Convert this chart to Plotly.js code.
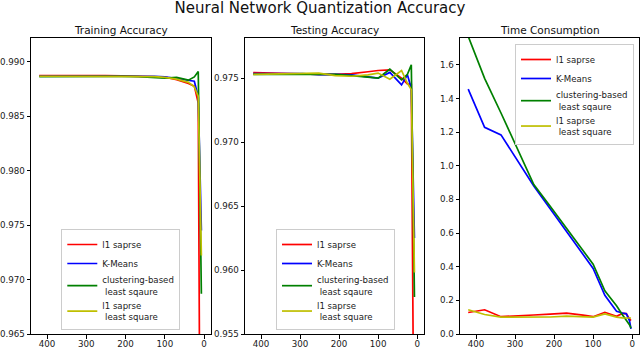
<!DOCTYPE html>
<html>
<head>
<meta charset="utf-8">
<script src="https://cdn.plot.ly/plotly-3.0.1.min.js"></script>
<style>html,body{margin:0;padding:0;background:#fff;}#chart{width:640px;height:349px;}</style>
</head>
<body>
<div id="chart"></div>
<script>
// Shared x values
var xVals = [420, 378, 336, 294, 252, 210, 168, 126, 100, 70, 40, 25, 15, 7, 3];

var seriesNames = ["l1 saprse", "K-Means", "clustering-based<br>\u00a0least sqaure", "l1 saprse<br>\u00a0least square"];
var panelTitles = ["Training Accuracy", "Testing Accuracy", "Time Consumption"];
var mainTitle = "Neural Network Quantization Accuracy";

// Training accuracy
var trainRed    = [0.98872, 0.98873, 0.98873, 0.98872, 0.98871, 0.98870, 0.98868, 0.98866, 0.98858, 0.98835, 0.98800, 0.98775, 0.98620, 0.92800, null];
var trainBlue   = [0.98866, 0.98867, 0.98867, 0.98867, 0.98867, 0.98866, 0.98866, 0.98864, 0.98860, 0.98845, 0.98826, 0.98820, 0.98680, 0.97450, null];
var trainGreen  = [0.98863, 0.98864, 0.98864, 0.98864, 0.98865, 0.98864, 0.98862, 0.98856, 0.98848, 0.98855, 0.98830, 0.98860, 0.98910, 0.96870, null];
var trainYellow = [0.98866, 0.98866, 0.98866, 0.98867, 0.98867, 0.98866, 0.98865, 0.98863, 0.98856, 0.98840, 0.98810, 0.98770, 0.98680, 0.97220, null];

// Testing accuracy
var testRed    = [0.97544, 0.97540, 0.97535, 0.97535, 0.97530, 0.97530, 0.97535, 0.97550, 0.97560, 0.97565, 0.97500, 0.97455, 0.97450, 0.94000, null];
var testBlue   = [0.97535, 0.97535, 0.97535, 0.97535, 0.97528, 0.97530, 0.97525, 0.97510, 0.97500, 0.97545, 0.97448, 0.97526, 0.97420, 0.96250, null];
var testGreen  = [0.97530, 0.97530, 0.97532, 0.97535, 0.97532, 0.97530, 0.97520, 0.97510, 0.97500, 0.97570, 0.97487, 0.97530, 0.97604, 0.95790, null];
var testYellow = [0.97530, 0.97532, 0.97535, 0.97538, 0.97540, 0.97520, 0.97515, 0.97526, 0.97540, 0.97492, 0.97560, 0.97460, 0.97410, 0.95980, null];

// Time consumption
var timeRed    = [0.128, 0.144, 0.103, 0.106, 0.113, 0.118, 0.124, 0.112, 0.103, 0.129, 0.105, 0.122, 0.121, 0.090, 0.080];
var timeBlue   = [1.456, 1.229, 1.184, 1.032, 0.880, 0.745, 0.610, 0.474, 0.390, 0.230, 0.135, 0.125, 0.120, 0.080, 0.030];
var timeGreen  = [1.770, 1.520, 1.314, 1.100, 0.889, 0.760, 0.630, 0.500, 0.415, 0.257, 0.168, 0.115, 0.085, 0.055, 0.035];
var timeYellow = [0.144, 0.116, 0.100, 0.099, 0.099, 0.101, 0.106, 0.104, 0.100, 0.120, 0.100, 0.096, 0.093, 0.095, 0.095];

var colors = ["#ff0000", "#0000ff", "#008000", "#bfbf00"];

var panels = [
  {data: [trainRed, trainBlue, trainGreen, trainYellow], xa: "x", ya: "y", lg: "legend"},
  {data: [testRed, testBlue, testGreen, testYellow], xa: "x2", ya: "y2", lg: "legend2"},
  {data: [timeRed, timeBlue, timeGreen, timeYellow], xa: "x3", ya: "y3", lg: "legend3"}
];

var traces = [];
panels.forEach(function(p){
  p.data.forEach(function(vals, i){
    traces.push({
      x: xVals, y: vals, type: "scatter", mode: "lines",
      name: seriesNames[i], line: {color: colors[i], width: 1.7},
      xaxis: p.xa, yaxis: p.ya, legend: p.lg, connectgaps: false
    });
  });
});

var W = 640, H = 349;
var doms = [[31, 211], [245, 424], [460, 639]];
var yTop = 38, yBot = 334;
var ydom = [(H - yBot) / H, (H - yTop) / H];
var font = "DejaVu Sans, Liberation Sans, sans-serif";

function xax(i){
  return {domain: [doms[i][0]/W, doms[i][1]/W], range: [441, -17.5], tick0: 0, dtick: 100,
    showgrid: false, zeroline: false, showline: true, mirror: true, linecolor: "#000", linewidth: 1,
    ticks: "outside", ticklen: 3.5, tickwidth: 1, tickcolor: "#000", automargin: false,
    ticklabelstandoff: -2,
    tickfont: {family: font, size: 8.7, color: "#1a1a1a"}, anchor: "y" + (i ? i + 1 : "")};
}
function yax(i, range, dtick, fmt, t0){
  return {domain: ydom, range: range, tick0: t0, dtick: dtick, tickformat: fmt,
    showgrid: false, zeroline: false, showline: true, mirror: true, linecolor: "#000", linewidth: 1,
    ticks: "outside", ticklen: 3.5, tickwidth: 1, tickcolor: "#000", automargin: false,
    tickfont: {family: font, size: 8.7, color: "#1a1a1a"}, anchor: "x" + (i ? i + 1 : "")};
}

var legendBase = {bgcolor: "rgba(255,255,255,0.8)", bordercolor: "#cccccc", borderwidth: 1,
  font: {family: font, size: 8.6, color: "#1a1a1a"}, tracegroupgap: 0, itemwidth: 30};

function legendAt(x, y, xa, ya){
  var l = JSON.parse(JSON.stringify(legendBase));
  l.x = x; l.y = y; l.xanchor = xa; l.yanchor = ya; l.xref = "paper"; l.yref = "paper";
  return l;
}

var annotations = panelTitles.map(function(t, i){
  return {text: t, x: (doms[i][0] + doms[i][1]) / 2 / W, y: (H - 30) / H, xref: "paper", yref: "paper",
    xanchor: "center", yanchor: "middle", showarrow: false, font: {family: font, size: 10.5, color: "#111"}};
});

var layout = {
  width: W, height: H, margin: {l: 0, r: 0, t: 0, b: 0},
  paper_bgcolor: "#fff", plot_bgcolor: "#fff",
  title: {text: mainTitle, x: 0.5, xanchor: "center", y: 1 - 8/H, yanchor: "middle",
    font: {family: font, size: 15, color: "#111"}},
  showlegend: true,
  xaxis: xax(0), xaxis2: xax(1), xaxis3: xax(2),
  yaxis: yax(0, [0.965, 0.99217], 0.005, ".3f", 0.965),
  yaxis2: yax(1, [0.955, 0.97814], 0.005, ".3f", 0.955),
  yaxis3: yax(2, [0, 1.76], 0.2, ".1f", 0),
  legend: legendAt(120.8/W, (H - 330)/H, "center", "bottom"),
  legend2: legendAt(335.5/W, (H - 330)/H, "center", "bottom"),
  legend3: legendAt(634/W, (H - 44)/H, "right", "top"),
  annotations: annotations
};

Plotly.newPlot("chart", traces, layout, {displayModeBar: false, staticPlot: true});
</script>
</body>
</html>
